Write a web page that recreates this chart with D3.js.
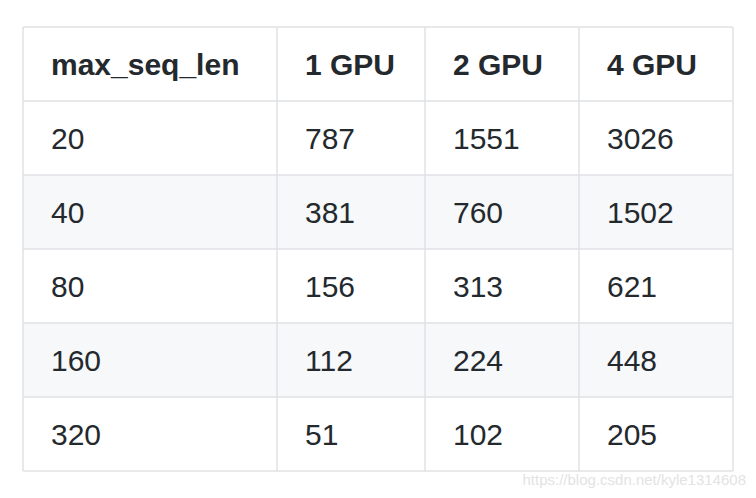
<!DOCTYPE html>
<html>
<head>
<meta charset="utf-8">
<script src="https://d3js.org/d3.v7.min.js"></script>
<style>
  body { margin: 0; background: #fff; }
  svg { font-family: "Liberation Sans", Arial, sans-serif; }
</style>
</head>
<body>
<svg width="756" height="498"></svg>
<script>
// table data
const headers = ["max_seq_len", "1 GPU", "2 GPU", "4 GPU"];
const seqLens = ["20", "40", "80", "160", "320"];
const gpu1 = ["787", "381", "156", "112", "51"];
const gpu2 = ["1551", "760", "313", "224", "102"];
const gpu4 = ["3026", "1502", "621", "448", "205"];

const rows = seqLens.map((s, i) => [s, gpu1[i], gpu2[i], gpu4[i]]);
const colEdges = [23, 277, 425, 579, 733];
const tableTop = 27, rowH = 74;

const svg = d3.select("svg");
const rowY = i => tableTop + i * rowH;

// row backgrounds
svg.selectAll("rect.bg")
  .data(rows)
  .enter().append("rect")
  .attr("x", colEdges[0])
  .attr("y", (d, i) => rowY(i + 1))
  .attr("width", colEdges[4] - colEdges[0])
  .attr("height", rowH)
  .attr("fill", (d, i) => i % 2 === 1 ? "#f6f8fa" : "#fff");

// grid lines
const lineColor = "#dfe2e5";
for (let i = 0; i <= rows.length + 1; i++) {
  svg.append("line")
    .attr("x1", colEdges[0]).attr("x2", colEdges[4])
    .attr("y1", rowY(i)).attr("y2", rowY(i))
    .attr("stroke", lineColor).attr("stroke-width", 1.5);
}
colEdges.forEach(x => {
  svg.append("line")
    .attr("x1", x).attr("x2", x)
    .attr("y1", rowY(0)).attr("y2", rowY(rows.length + 1))
    .attr("stroke", lineColor).attr("stroke-width", 1.5);
});

// header
svg.selectAll("text.h")
  .data(headers)
  .enter().append("text")
  .attr("x", (d, i) => colEdges[i] + 28)
  .attr("y", rowY(0) + rowH / 2 + 11)
  .attr("font-size", 30).attr("font-weight", "bold")
  .attr("fill", "#24292e")
  .text(d => d);

// body cells
rows.forEach((r, ri) => {
  svg.selectAll(null)
    .data(r)
    .enter().append("text")
    .attr("x", (d, i) => colEdges[i] + 28)
    .attr("y", rowY(ri + 1) + rowH / 2 + 11)
    .attr("font-size", 30)
    .attr("fill", "#24292e")
    .text(d => d);
});

// watermark
svg.append("text")
  .attr("x", 746).attr("y", 485)
  .attr("text-anchor", "end")
  .attr("font-size", 15)
  .attr("fill", "#e3e3e3")
  .text("https://blog.csdn.net/kyle1314608");
</script>
</body>
</html>
